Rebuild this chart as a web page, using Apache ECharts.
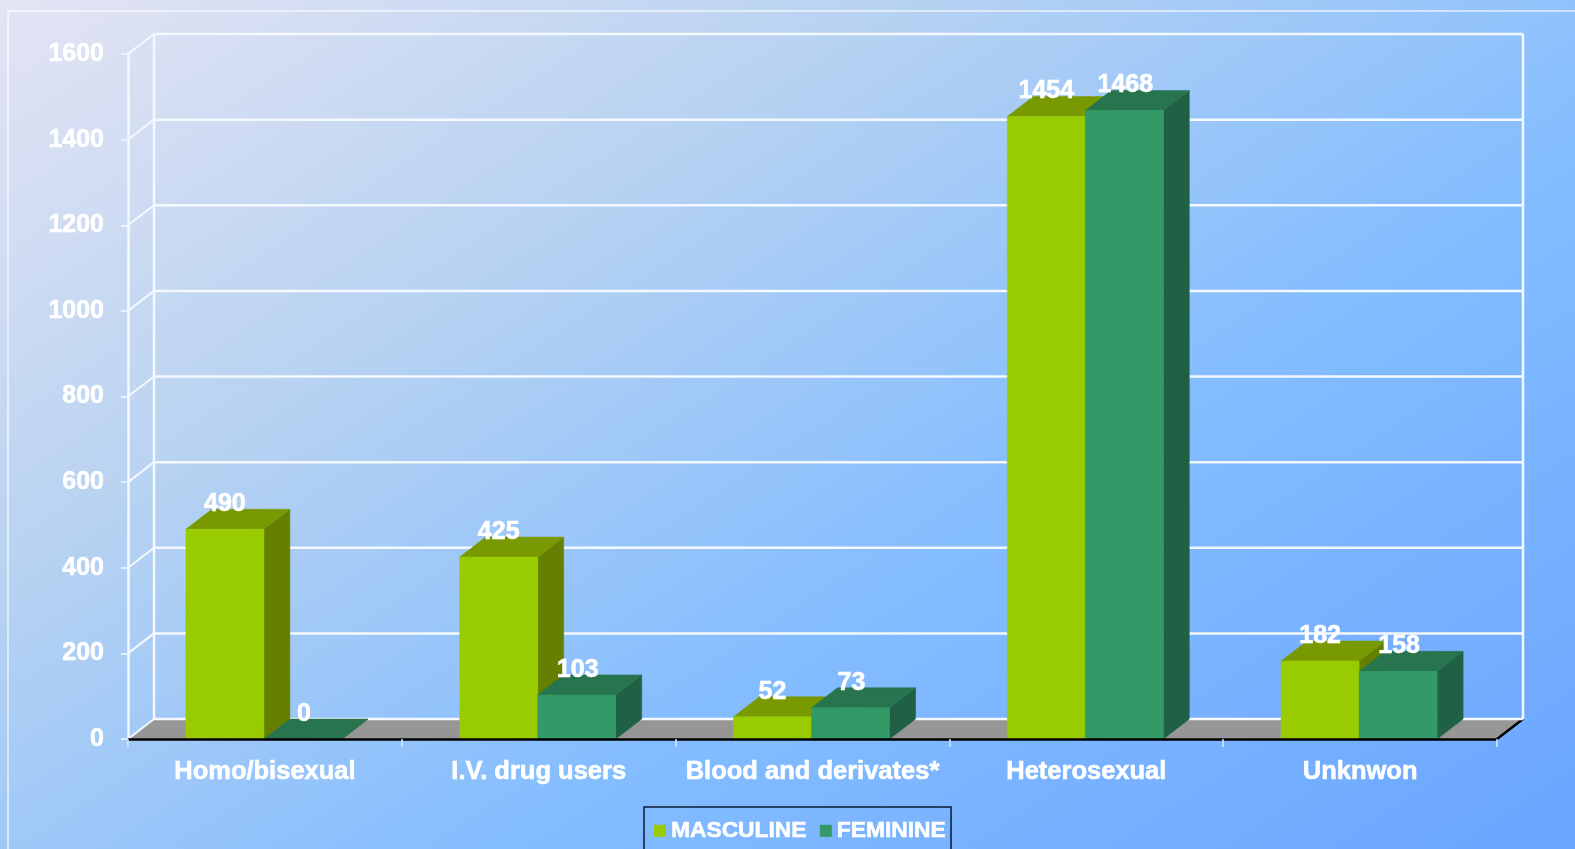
<!DOCTYPE html>
<html>
<head>
<meta charset="utf-8">
<style>html,body{margin:0;padding:0;overflow:hidden}#c{width:1575px;height:849px}</style>
<script src="https://cdn.jsdelivr.net/npm/echarts@6/dist/echarts.min.js"></script>
</head>
<body>
<div id="c"></div>
<script>
const categories = ['Homo/bisexual', 'I.V. drug users', 'Blood and derivates*', 'Heterosexual', 'Unknwon'];
const masculine = [490, 425, 52, 1454, 182];
const feminine = [0, 103, 73, 1468, 158];
const yTicks = [0, 200, 400, 600, 800, 1000, 1200, 1400, 1600];

const DX = 26, DY = -20, BAR_RATIO = 0.285, BAR_SHIFT = -1;
const FONT = '"Liberation Sans", Arial, sans-serif';
const LINE = '#f4f8ff';
const chart = echarts.init(document.getElementById('c'));

function poly(points, fill) {
  return { type: 'polygon', shape: { points }, style: { fill, stroke: fill, lineWidth: 0.5 } };
}
function seg(x1, y1, x2, y2, stroke, lineWidth) {
  return { type: 'line', shape: { x1, y1, x2, y2 }, style: { stroke, lineWidth } };
}
function barSeries(name, values, side, palette) {
  return {
    name, type: 'custom', z: 3, itemStyle: { color: palette.front },
    encode: { x: 0, y: 1 },
    data: values.map((v, i) => [i, v]),
    renderItem(params, api) {
      const top = api.coord([api.value(0), api.value(1)]);
      const base = api.coord([api.value(0), 0]);
      const w = api.size([1, 0])[0] * BAR_RATIO;
      const x0 = (side === 0 ? top[0] - w : top[0]) + BAR_SHIFT;
      const x1 = x0 + w, yt = top[1], yb = base[1];
      return { type: 'group', children: [
        poly([[x1, yb], [x1 + DX, yb + DY], [x1 + DX, yt + DY], [x1, yt]], palette.side),
        poly([[x0, yt], [x0 + DX, yt + DY], [x1 + DX, yt + DY], [x1, yt]], palette.top),
        poly([[x0, yb], [x1, yb], [x1, yt], [x0, yt]], palette.front)
      ] };
    }
  };
}
function labelSeries(values, side) {
  return {
    type: 'custom', z: 4, encode: { x: 0, y: 1 }, silent: true,
    data: values.map((v, i) => [i, v]),
    renderItem(params, api) {
      const top = api.coord([api.value(0), api.value(1)]);
      const w = api.size([1, 0])[0] * BAR_RATIO;
      const cx = side === 0 ? top[0] - w / 2 + BAR_SHIFT : top[0] + w / 2;
      return { type: 'text', style: {
        text: String(api.value(1)), x: cx, y: top[1] - 25,
        fill: '#fff', stroke: '#fff', lineWidth: 0.6,
        font: 'bold 25px ' + FONT, align: 'center', verticalAlign: 'middle'
      } };
    }
  };
}
const wallSeries = {
  type: 'custom', z: 1, silent: true, encode: { x: 0, y: 1 },
  data: [[0, yTicks[0]]],
  renderItem(params, api) {
    const g = params.coordSys;
    const yb = g.y + g.height;
    return { type: 'group', children: [
      poly([[g.x, yb], [g.x + DX, yb + DY], [g.x + g.width + DX, yb + DY], [g.x + g.width, yb]], '#969696'),
      seg(g.x + g.width, yb, g.x + g.width + DX, yb + DY, '#000', 2.5),
      seg(g.x + DX, yb + DY, g.x + DX, g.y + DY, LINE, 2.5),
      seg(g.x + g.width + DX, yb + DY, g.x + g.width + DX, g.y + DY, LINE, 2.5)
    ] };
  }
};
const gridSeries = {
  type: 'custom', z: 2, silent: true, encode: { x: 0, y: 1 },
  data: yTicks.map(v => [0, v]),
  renderItem(params, api) {
    const g = params.coordSys;
    const y = api.coord([0, api.value(1)])[1];
    return { type: 'group', children: [
      seg(g.x, y, g.x + DX, y + DY, LINE, 2),
      seg(g.x + DX, y + DY, g.x + g.width + DX, y + DY, LINE, 2.5)
    ] };
  }
};

chart.setOption({
  animation: false,
  backgroundColor: {
    type: 'linear', global: true, x: 0, y: 0, x2: 856, y2: 1316,
    colorStops: [
      { offset: 0, color: '#e4e4f4' },
      { offset: 0.3, color: '#b9d3f1' },
      { offset: 0.62, color: '#84bdff' },
      { offset: 1, color: '#6aa5ff' }
    ]
  },
  textStyle: { fontFamily: FONT },
  grid: { left: 128, top: 54, width: 1369, height: 685, containLabel: false },
  xAxis: {
    type: 'category', data: categories, z: 5,
    axisLine: { lineStyle: { color: '#000', width: 2.5 } },
    axisTick: { show: true, length: 8, lineStyle: { color: '#dceaff', width: 1.5 } },
    axisLabel: { color: '#fff', fontWeight: 'bold', fontSize: 25.5, fontFamily: FONT, margin: 20, interval: 0,
      textBorderColor: '#fff', textBorderWidth: 0.6 },
    splitLine: { show: false }
  },
  yAxis: {
    type: 'value', min: 0, max: 1600, interval: 200, z: 5,
    axisLine: { show: true, lineStyle: { color: LINE, width: 2.5 } },
    axisTick: { show: true, length: 7, lineStyle: { color: LINE, width: 1.5 } },
    axisLabel: { color: '#fff', fontWeight: 'bold', fontSize: 25, fontFamily: FONT, margin: 24,
      padding: [4, 0, 0, 0], textBorderColor: '#fff', textBorderWidth: 0.6,
      formatter: v => String(v) },
    splitLine: { show: false }
  },
  legend: {
    data: ['MASCULINE', 'FEMININE'], left: 644, top: 807, orient: 'horizontal',
    itemWidth: 12, itemHeight: 12, itemGap: 13, icon: 'rect',
    padding: [12, 5, 24, 10], borderColor: '#0b1a33', borderWidth: 1.5,
    textStyle: { color: '#fff', fontWeight: 'bold', fontSize: 22.8, fontFamily: FONT, padding: [2, 0, 0, 0],
      textBorderColor: '#fff', textBorderWidth: 0.6 },
    selectedMode: false
  },
  graphic: [{
    type: 'polyline', silent: true, z: 0,
    shape: { points: [[8, 849], [8, 11], [1575, 11]] },
    style: { stroke: 'rgba(255,255,255,0.75)', fill: null, lineWidth: 1.5 }
  }],
  series: [
    wallSeries,
    gridSeries,
    barSeries('MASCULINE', masculine, 0, { front: '#99cc00', side: '#658000', top: '#789a00' }),
    barSeries('FEMININE', feminine, 1, { front: '#339966', side: '#206044', top: '#27744e' }),
    labelSeries(masculine, 0),
    labelSeries(feminine, 1)
  ]
});
</script>
</body>
</html>
